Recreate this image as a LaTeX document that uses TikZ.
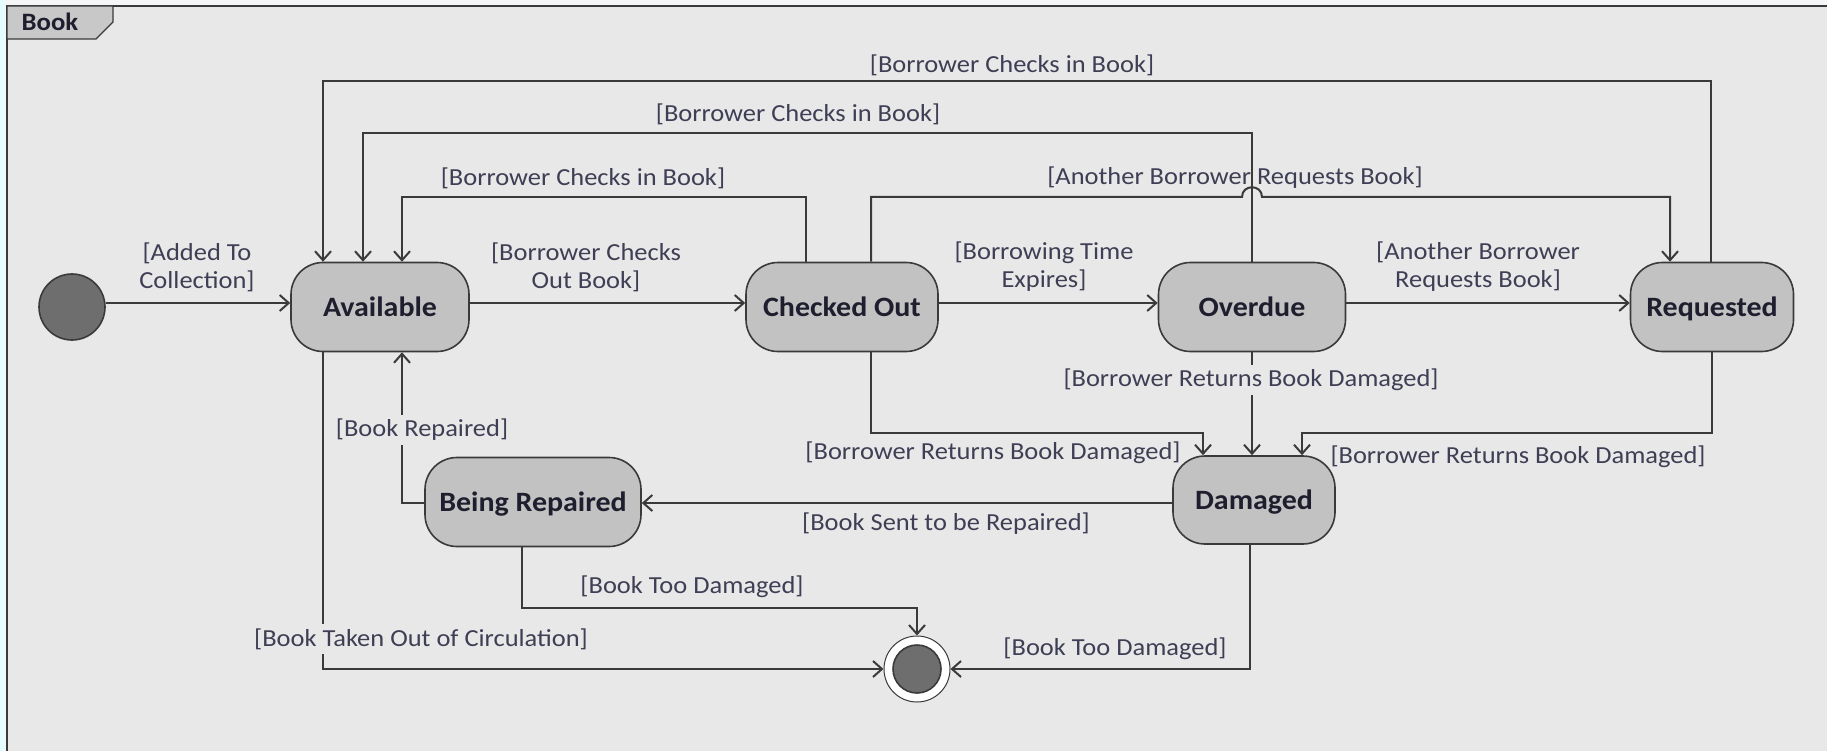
\documentclass[tikz,border=0pt]{standalone}
\usepackage{fontspec}
\setmainfont{Carlito}
\newfontfamily\guardfont[FakeStretch=1.08]{Carlito}
\newfontfamily\statefont[FakeStretch=1.07]{Carlito}
\usetikzlibrary{arrows.meta}
\definecolor{framebg}{HTML}{E8E8E8}
\definecolor{pagebg}{HTML}{F4F6F7}
\definecolor{statefill}{HTML}{C2C2C2}
\definecolor{edge}{HTML}{3A3A3A}
\definecolor{labelink}{HTML}{3E3E55}
\definecolor{nameink}{HTML}{1E1E2E}
\definecolor{dotfill}{HTML}{6E6E6E}
\definecolor{tabfill}{HTML}{C8C8C8}

\begin{document}
\begin{tikzpicture}[x=1pt,y=-1pt,
  state/.style={draw=edge, line width=1.6pt, fill=statefill, rounded corners=32pt,
    minimum height=89pt, inner sep=0pt, text=nameink,
    text height=18pt, text depth=0pt,
    font=\statefont\fontsize{28}{30}\selectfont\bfseries},
  guard/.style={font=\guardfont\fontsize{24.5}{28}\selectfont, text=labelink,
    align=center, inner sep=1pt},
  gapguard/.style={guard, fill=framebg, inner sep=4pt},
  arr/.style={draw=edge, line width=2pt,
    -{Straight Barb[length=9pt,width=16pt,line width=2pt]}},
  pseudo/.style={circle, draw=edge, line width=1.6pt, fill=dotfill, inner sep=0pt}
]
\useasboundingbox (0,0) rectangle (1827,751);

% page, frame and name tab
\fill[pagebg] (0,0) rectangle (1827,751);
\shade[left color=cyan!12!white, right color=pagebg] (0,0) rectangle (7,751);
\fill[framebg] (7,6) rectangle (1827,751);
\draw[edge, line width=2.6pt] (1827,6) -- (7,6) -- (7,751);
\draw[edge, line width=1.4pt, fill=tabfill] (7,6) -- (113,6) -- (113,22) -- (96,39) -- (7,39) -- cycle;
\node[font=\statefont\fontsize{25}{27}\selectfont\bfseries, text=nameink] (tabname) at (50,22) {Book};

% states
\node[pseudo, minimum size=66pt] (init) at (72,307) {};
\node[state, minimum width=178pt] (Available) at (380,307) {Available};
\node[state, minimum width=192pt] (CheckedOut) at (842,307) {Checked Out};
\node[state, minimum width=187pt] (Overdue) at (1252,307) {Overdue};
\node[state, minimum width=163pt] (Requested) at (1712,307) {Requested};
\node[state, minimum width=162pt, minimum height=88pt] (Damaged) at (1254,500) {Damaged};
\node[state, minimum width=216pt] (BeingRepaired) at (533,502) {Being Repaired};
\node[circle, draw=edge, line width=1pt, fill=white, minimum size=66pt, inner sep=0pt] (final) at (917,669) {};
\node[pseudo, minimum size=48pt] (finaldot) at (final) {};

% rails and ports
\coordinate (r1) at (0,81);
\coordinate (r2) at (0,133);
\coordinate (r3) at (0,197);
\coordinate (r4) at (0,433);
\coordinate (r5) at (0,608);
\coordinate (av-t1) at ([xshift=-57pt]Available.north);
\coordinate (av-t2) at ([xshift=-17pt]Available.north);
\coordinate (av-t3) at ([xshift=22pt]Available.north);
\coordinate (av-b1) at ([xshift=-57pt]Available.south);
\coordinate (av-b2) at ([xshift=22pt]Available.south);
\coordinate (co-t1) at ([xshift=-36pt]CheckedOut.north);
\coordinate (co-t2) at ([xshift=29pt]CheckedOut.north);
\coordinate (co-b) at ([xshift=29pt]CheckedOut.south);
\coordinate (rq-t1) at ([xshift=-42pt]Requested.north);
\coordinate (rq-t2) at ([xshift=-1pt]Requested.north);
\coordinate (dm-t1) at ([xshift=-51pt]Damaged.north);
\coordinate (dm-t2) at ([xshift=-2pt]Damaged.north);
\coordinate (dm-t3) at ([xshift=48pt]Damaged.north);
\coordinate (dm-b) at ([xshift=-4pt]Damaged.south);
\coordinate (dm-w) at ([yshift=-3pt]Damaged.west);
\coordinate (br-w) at ([yshift=-1pt]BeingRepaired.west);
\coordinate (br-b) at ([xshift=-11pt]BeingRepaired.south);
\coordinate (jmp) at (Overdue.north |- r3);

% transitions along the main row
\draw[arr] ([yshift=4pt]init.east) -- ([yshift=4pt]init.east -| Available.west);
\draw[arr] ([yshift=4pt]Available.east) -- ([yshift=4pt]CheckedOut.west);
\draw[arr] ([yshift=4pt]CheckedOut.east) -- ([yshift=4pt]Overdue.west);
\draw[arr] ([yshift=4pt]Overdue.east) -- ([yshift=4pt]Requested.west);

% check-in returns to Available
\draw[arr] (rq-t2) -- (rq-t2 |- r1) -| (av-t1);
\draw[arr] (Overdue.north) -- (Overdue.north |- r2) -| (av-t2);
\draw[arr] (co-t1) -- (co-t1 |- r3) -| (av-t3);

% request while checked out, hopping over the Overdue line
\draw[arr] (co-t2) -- (co-t2 |- r3) -- ([xshift=-10pt]jmp)
  .. controls ([xshift=-10pt,yshift=13pt]jmp) and ([xshift=10pt,yshift=13pt]jmp) .. ([xshift=10pt]jmp)
  -| (rq-t1);

% returned damaged
\draw[arr] (co-b) -- (co-b |- r4) -| (dm-t1);
\draw[arr] (Overdue.south) -- (dm-t2);
\draw[arr] (Requested.south) -- (Requested.south |- r4) -| (dm-t3);

% repair cycle
\draw[arr] (dm-w) -- (dm-w -| BeingRepaired.east);
\draw[arr] (br-w) -- (br-w -| av-b2) -- (av-b2);

% ways out of circulation
\draw[arr] (br-b) -- (br-b |- r5) -| (final.north);
\draw[arr] (av-b1) -- (av-b1 |- final.west) -- (final.west);
\draw[arr] (dm-b) -- (dm-b |- final.east) -- (final.east);

% guards
\node[guard] (gAdded) at (197,267) {[Added To\\Collection]};
\node[guard] (gCheckOut) at (586,267) {[Borrower Checks\\Out Book]};
\node[guard] (gExpire) at (1044,267) {[Borrowing Time\\Expires]};
\node[guard] (gRequest) at (1478,267) {[Another Borrower\\Requests Book]};
\node[guard] (gIn1) at (1012,65) {[Borrower Checks in Book]};
\node[guard] (gIn2) at (798,114) {[Borrower Checks in Book]};
\node[guard] (gIn3) at (583,178) {[Borrower Checks in Book]};
\node[guard] (gReqTop) at (1235,178) {[Another Borrower Requests Book]};
\node[gapguard] (gDmgMid) at (1251,380) {[Borrower Returns Book Damaged]};
\node[guard] (gDmgLeft) at (993,453) {[Borrower Returns Book Damaged]};
\node[guard] (gDmgRight) at (1518,457) {[Borrower Returns Book Damaged]};
\node[guard] (gSent) at (946,524) {[Book Sent to be Repaired]};
\node[gapguard] (gRepaired) at (422,430) {[Book Repaired]};
\node[guard] (gTooBR) at (692,587) {[Book Too Damaged]};
\node[gapguard] (gOut) at (421,639) {[Book Taken Out of Circulation]};
\node[guard] (gTooDm) at (1115,649) {[Book Too Damaged]};
\end{tikzpicture}
\end{document}
